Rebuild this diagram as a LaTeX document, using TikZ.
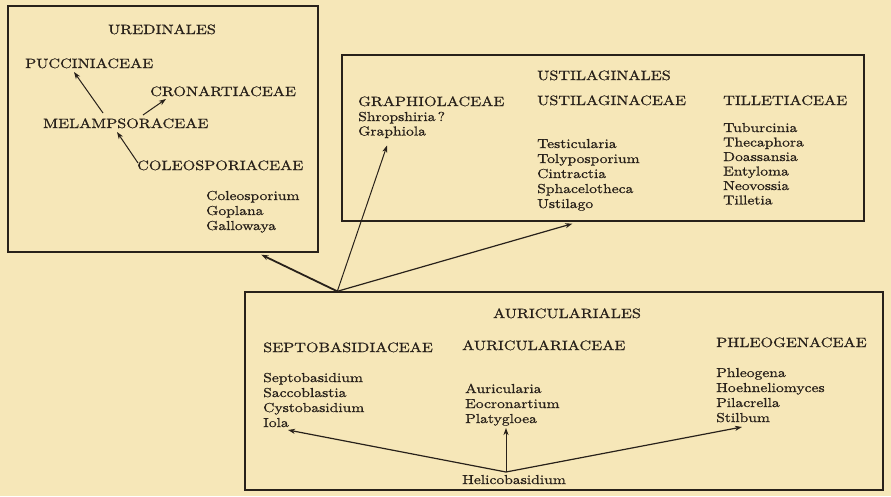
\documentclass[tikz,border=0pt]{standalone}
\usepackage{fontspec}
\setmainfont{lmroman10-regular.otf}[FakeStretch=1.2,FakeBold=0.8]
\usetikzlibrary{arrows.meta,calc}
\definecolor{paper}{RGB}{246,231,184}
\definecolor{ink}{RGB}{40,33,26}
\tikzset{
 hdr/.style={anchor=base west, inner sep=0pt, font=\fontsize{13.5}{15}\selectfont, text=ink},
 gen/.style={anchor=base west, inner sep=0pt, font=\fontsize{13}{15}\selectfont, text=ink},
 ttl/.style={anchor=base, inner sep=0pt, font=\fontsize{13.5}{15}\selectfont, text=ink},
 frame/.style={draw=ink, line width=1.4pt, inner sep=0pt},
 arr/.style={draw=ink, line width=1pt, -{Stealth[length=7pt,width=5pt,inset=2pt]}},
}
\begin{document}
\begin{tikzpicture}[x=1pt,y=-1pt]
\fill[paper] (0,0) rectangle (891,496);
\useasboundingbox (0,0) rectangle (891,496);

% boxes
\node[frame, minimum width=310pt, minimum height=246pt] (ured) at (163,129) {};
\node[frame, minimum width=522pt, minimum height=166pt] (ustil) at (603,138) {};
\node[frame, minimum width=638pt, minimum height=198pt] (auric) at (564,391) {};

% Uredinales
\node[ttl] (uredt) at (162,34) {UREDINALES};
\node[hdr] (puc) at (25,68) {PUCCINIACEAE};
\node[hdr] (cron) at (150,96) {CRONARTIACEAE};
\node[hdr] (melamp) at (43,128) {MELAMPSORACEAE};
\node[hdr] (coleo) at (137,170) {COLEOSPORIACEAE};
\node[gen] (g1) at (206,200) {Coleosporium};
\node[gen] (g2) at (206,215) {Goplana};
\node[gen] (g3) at (206,230) {Gallowaya};

% Ustilaginales
\node[hdr] (ustilt) at (537,80) {USTILAGINALES};
\node[hdr] (graphf) at (358,106) {GRAPHIOLACEAE};
\node[hdr] (ustilf) at (537,105) {USTILAGINACEAE};
\node[hdr] (tillf) at (723,105) {TILLETIACEAE};
\node[gen] (shrop) at (358,121) {Shropshiria\,?};
\node[gen] (graph) at (358,135.5) {Graphiola};
\node[gen] (u1) at (537,148) {Testicularia};
\node[gen] (u2) at (537,163) {Tolyposporium};
\node[gen] (u3) at (537,178) {Cintractia};
\node[gen] (u4) at (537,193) {Sphacelotheca};
\node[gen] (u5) at (537,208) {Ustilago};
\node[gen] (t1) at (723,132) {Tuburcinia};
\node[gen] (t2) at (723,146.5) {Thecaphora};
\node[gen] (t3) at (723,161) {Doassansia};
\node[gen] (t4) at (723,175.5) {Entyloma};
\node[gen] (t5) at (723,190) {Neovossia};
\node[gen] (t6) at (723,204.5) {Tilletia};

% Auriculariales
\node[ttl] (auct) at (567,318) {AURICULARIALES};
\node[hdr] (septf) at (263,352) {SEPTOBASIDIACEAE};
\node[hdr] (auf) at (462,350) {AURICULARIACEAE};
\node[hdr] (phlf) at (716,347) {PHLEOGENACEAE};
\node[gen] (s1) at (263,382) {Septobasidium};
\node[gen] (s2) at (263,397) {Saccoblastia};
\node[gen] (s3) at (263,412) {Cystobasidium};
\node[gen] (iola) at (263,427) {Iola};
\node[gen] (a1) at (465,393) {Auricularia};
\node[gen] (a2) at (465,408) {Eocronartium};
\node[gen] (platy) at (465,423) {Platygloea};
\node[gen] (p1) at (716,377) {Phleogena};
\node[gen] (p2) at (716,392) {Hoehneliomyces};
\node[gen] (p3) at (716,407) {Pilacrella};
\node[gen] (stil) at (716,422) {Stilbum};
\node[gen] (helico) at (462,484) {Helicobasidium};

% arrows inside Uredinales
\draw[arr] ($(melamp.base west)+(60,-15)$) -- ($(puc.base west)+(49,4)$);
\draw[arr] ($(melamp.base west)+(100,-13)$) -- ($(cron.base west)+(16,3)$);
\draw[arr] ($(coleo.base west)+(1,-7)$) -- ($(melamp.base west)+(74,4)$);

% arrows from Auriculariales
\coordinate (jn) at ($(auric.north west)+(93,0)$);
\draw[arr, line width=1.8pt] (jn) -- ($(ured.south west)+(254,2)$);
\draw[arr] (jn) -- ($(graph.base west)+(29,10)$);
\draw[arr, line width=1.2pt] (jn) -- ($(ustil.south west)+(231,2)$);

% arrows inside Auriculariales
\coordinate (hb) at ($(helico.base west)+(44,-12)$);
\draw[arr, line width=1.2pt] (hb) -- ($(iola.base west)+(25,3)$);
\draw[arr] (hb) -- ($(platy.base west)+(41,5)$);
\draw[arr, line width=1.2pt] (hb) -- ($(stil.base west)+(26,5)$);
\end{tikzpicture}
\end{document}
